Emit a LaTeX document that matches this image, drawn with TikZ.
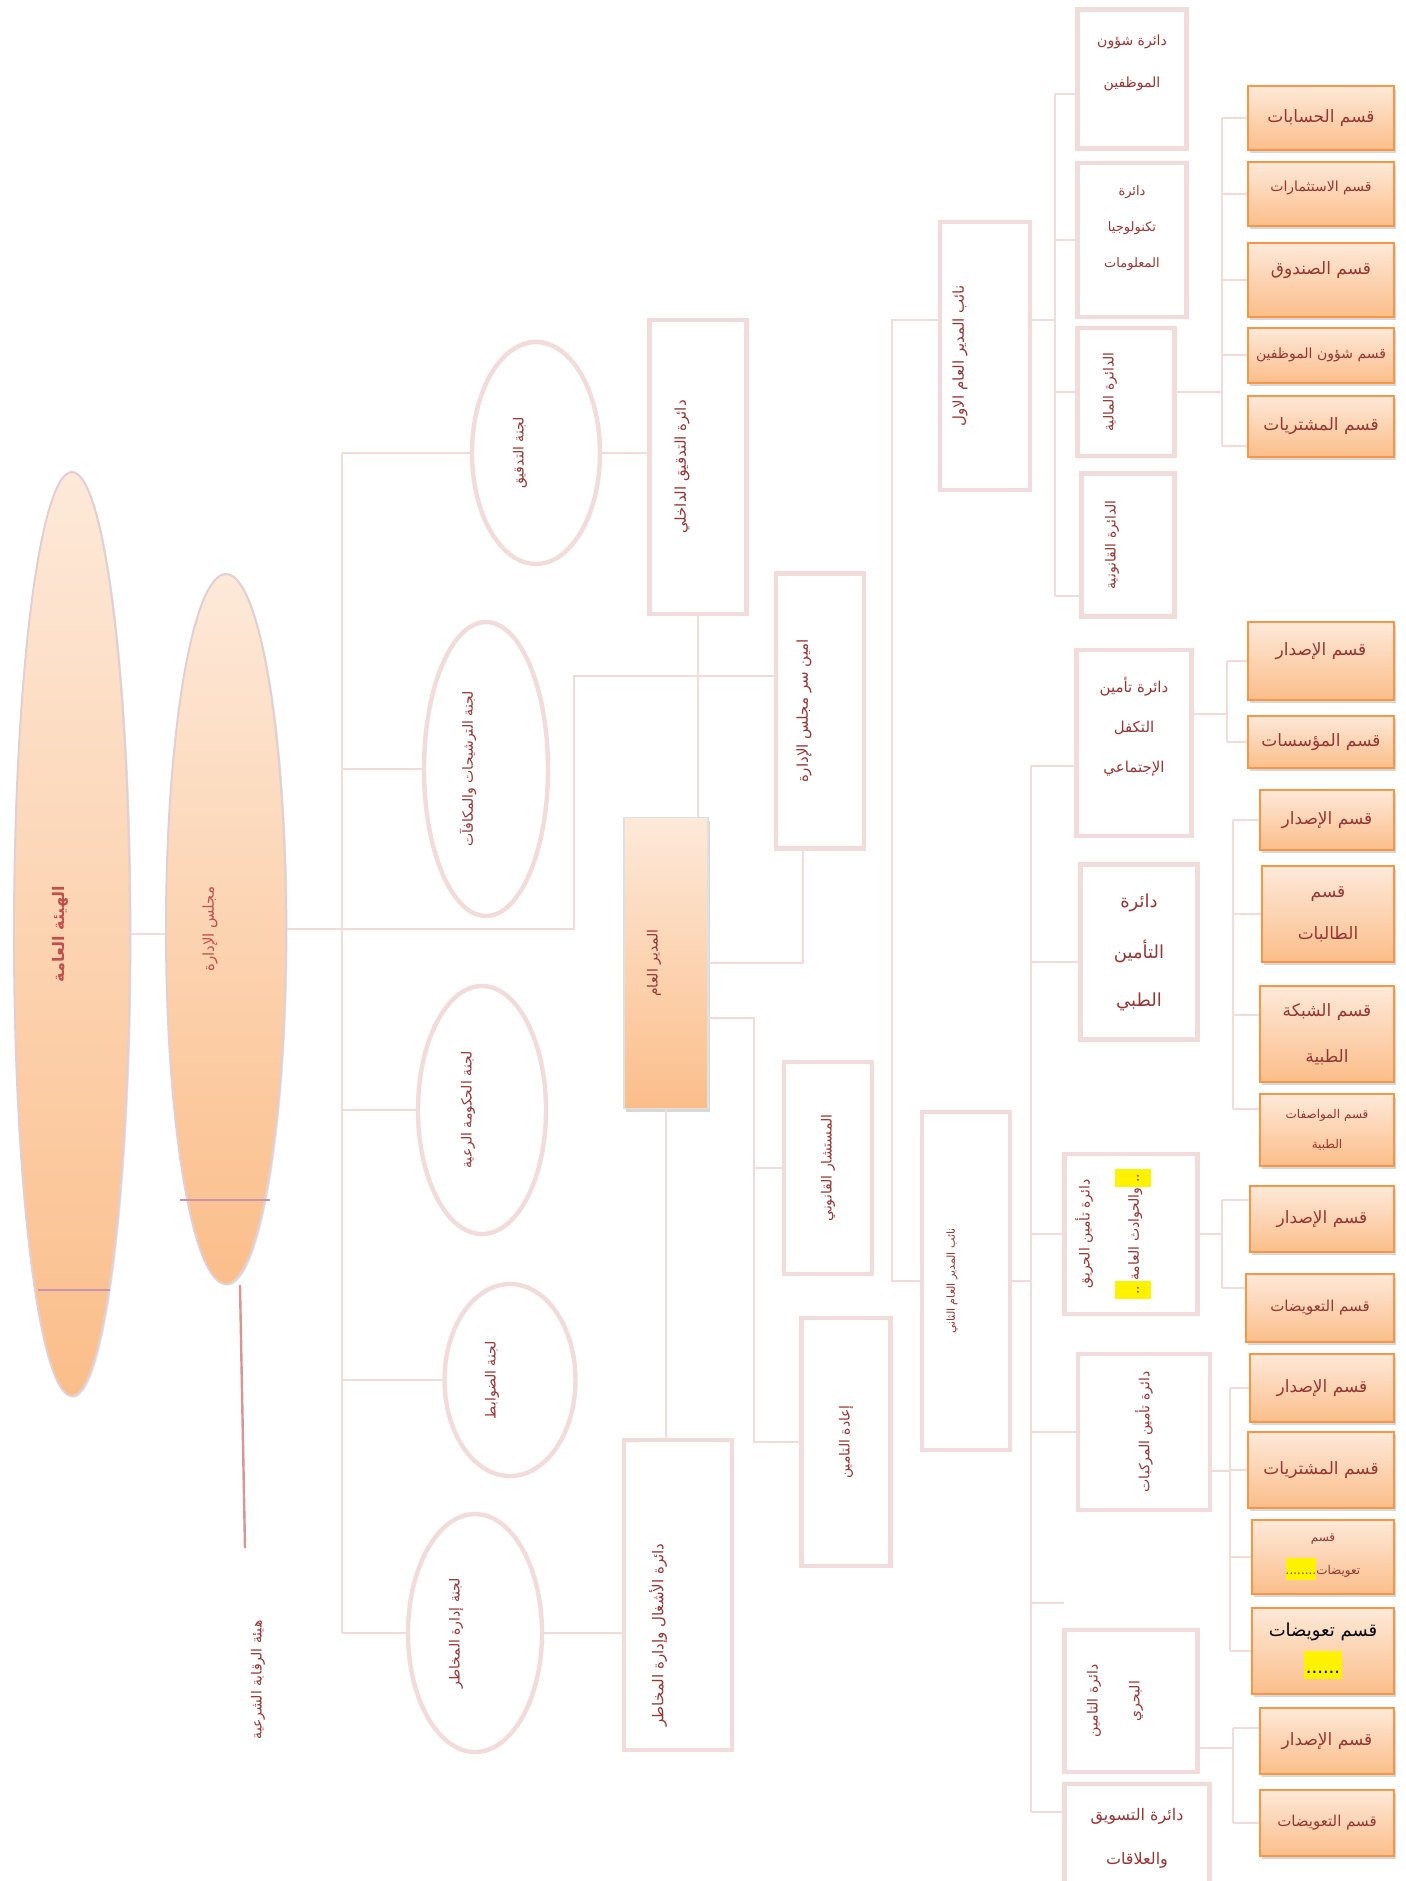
\documentclass[tikz,border=0pt]{standalone}
\usepackage{fontspec}
\usepackage{graphicx}
\usetikzlibrary{shapes.geometric, shadows}
\TeXXeTstate=1
\newfontfamily\arabicfont[Script=Arabic]{DejaVu Sans}
\definecolor{ink}{HTML}{943634}
\definecolor{inkred}{HTML}{C0504D}
\definecolor{rose}{HTML}{F2DCDB}
\definecolor{mauve}{HTML}{D99594}
\definecolor{lilac}{HTML}{C993AD}
\definecolor{peachtop}{HTML}{FDE9D9}
\definecolor{peachbot}{HTML}{FBBE8A}
\definecolor{amber}{HTML}{F79646}
\definecolor{ovalln}{HTML}{E3CFD2}
\newcommand{\ar}[1]{\beginR#1\endR}
\newcommand{\vt}[2][0pt]{\rotatebox{90}{\ar{#2}}\hspace*{#1}}
\newcommand{\vtwo}[4]{\rotatebox{90}{\begin{tabular}{@{}c@{}}#1\\[#3]#2\end{tabular}}\hspace*{#4}}
\newcommand{\hlt}[3]{{\setlength{\fboxsep}{0pt}\colorbox{yellow}{\rule[-#1]{0pt}{#2}#3}}}

\begin{document}
\begin{tikzpicture}[
  x=0.5pt, y=-0.5pt,
  wh/.style 2 args={minimum width=#1*0.5pt-2pt, minimum height=#2*0.5pt-2pt},
  bigoval/.style={
    ellipse, draw=ovalln, line width=1pt, top color=peachtop, bottom color=peachbot,
    inner sep=0pt, font=\arabicfont\fontsize{8}{10}\selectfont, text=inkred,
    drop shadow={shadow xshift=0.8pt, shadow yshift=-0.8pt, opacity=0.2}
  },
  committee/.style={
    ellipse, draw=rose, line width=2.2pt, fill=white, inner sep=0pt,
    font=\arabicfont\fontsize{7}{8}\selectfont, text=ink
  },
  deptbox/.style={
    draw=rose, line width=2.3pt, fill=white, inner sep=0pt, align=center,
    font=\arabicfont\fontsize{7}{9}\selectfont, text=ink
  },
  chief/.style={
    draw=black!12, line width=0.8pt, top color=peachtop, bottom color=peachbot,
    inner sep=0pt, font=\arabicfont\fontsize{7}{9}\selectfont, text=ink,
    drop shadow={shadow xshift=1pt, shadow yshift=-1.5pt, opacity=0.3}
  },
  sectbox/.style={
    draw=amber, line width=1pt, top color=peachtop, bottom color=peachbot,
    inner sep=0pt, align=center, font=\arabicfont\fontsize{8.5}{10}\selectfont, text=ink,
    drop shadow={shadow xshift=1pt, shadow yshift=-1.5pt, opacity=0.3}
  },
  conn/.style={draw=rose, line width=1.2pt},
  ruleln/.style={draw=mauve, line width=1.2pt},
]

% ============================================================
% Page
% ============================================================
\fill[white] (0,0) rectangle (1405,1881);
\useasboundingbox (0,0) rectangle (1405,1881);

% ============================================================
% General assembly and board
% ============================================================
\node[bigoval, wh={120}{928}] (assembly) at (72,934)
  {\rotatebox{90}{\bfseries\ar{الهيئة العامة}}\hspace*{12pt}};
\node[bigoval, wh={124}{714}, font=\arabicfont\fontsize{7.5}{9}\selectfont] (board) at (226,929)
  {\vt[16pt]{مجلس الإدارة}};
\draw[lilac, line width=1pt] (38,1290) -- (110,1290);
\draw[lilac, line width=1pt] (180,1200) -- (270,1200);

\coordinate (sharia-end) at (245,1548);
\node[text=ink, font=\arabicfont\fontsize{7}{9}\selectfont] (sharia) at (258,1680)
  {\vt{هيئة الرقابة الشرعية}};

% ============================================================
% Committees
% ============================================================
\node[committee, wh={132}{226}] (c-audit) at (536,453) {\vt[16pt]{لجنة التدقيق}};
\node[committee, wh={128}{298}] (c-nomin) at (486,769) {\vt[18pt]{لجنة الترشيحات والمكافآت}};
\node[committee, wh={132}{252}] (c-gov) at (482,1110) {\vt[14pt]{لجنة الحكومة الرعية}};
\node[committee, wh={135}{196}] (c-ctrl) at (510,1380) {\vt[18pt]{لجنة الضوابط}};
\node[committee, wh={138}{242}] (c-risk) at (475,1633) {\vt[19pt]{لجنة إدارة المخاطر}};

% ============================================================
% Board level units and general manager
% ============================================================
\node[deptbox, wh={101}{298}, font=\arabicfont\fontsize{7.5}{9}\selectfont] (audit) at (698,467)
  {\vt[16pt]{دائرة التدقيق الداخلي}};
\node[deptbox, wh={92}{279}, font=\arabicfont\fontsize{7.5}{9}\selectfont] (secretary) at (820,711)
  {\vt[16pt]{امين سر مجلس الإدارة}};
\node[chief, wh={88}{295}] (gm) at (666,963) {\vt[12pt]{المدير العام}};
\node[deptbox, wh={92}{216}] (legal) at (828,1168) {\vt{المستشار القانوني}};
\node[deptbox, wh={93}{252}] (reins) at (846,1442) {\vt{إعادة التامين}};
\node[deptbox, wh={112}{314}, font=\arabicfont\fontsize{7.5}{9}\selectfont] (works) at (678,1595)
  {\rotatebox{90}{\ar{دائرة الأشغال وإدارة المخاطر}\hspace*{40pt}}\hspace*{20pt}};

% ============================================================
% Deputies
% ============================================================
\node[deptbox, wh={94}{272}, font=\arabicfont\fontsize{7.5}{9}\selectfont] (dep1) at (985,356)
  {\vt[25pt]{نائب المدير العام الاول}};
\node[deptbox, wh={92}{342}, font=\arabicfont\fontsize{5.5}{7}\selectfont] (dep2) at (966,1281)
  {\vt[14pt]{نائب المدير العام الثاني}};

% --- first deputy: departments ---
\node[deptbox, wh={113}{143}, text depth=18pt] (staff) at (1132,79)
  {\ar{دائرة شؤون}\\[12pt]\ar{الموظفين}};
\node[deptbox, wh={113}{158}, font=\arabicfont\fontsize{6.5}{8}\selectfont, text depth=13pt] (it) at (1132,240)
  {\ar{دائرة}\\[10pt]\ar{تكنولوجيا}\\[10pt]\ar{المعلومات}};
\node[deptbox, wh={101}{132}] (finance) at (1126,392) {\vt[16pt]{الدائرة المالية}};
\node[deptbox, wh={97}{147}] (lawdept) at (1128,545) {\vt[16pt]{الدائرة القانونية}};

% --- finance sections ---
\node[sectbox, wh={150}{68}] (s-acc) at (1321,118) {\ar{قسم الحسابات}};
\node[sectbox, wh={150}{68}, font=\arabicfont\fontsize{7}{9}\selectfont, text depth=8pt] (s-inv) at (1321,194)
  {\ar{قسم الاستثمارات}};
\node[sectbox, wh={150}{78}, text depth=12pt] (s-fund) at (1321,280) {\ar{قسم الصندوق}};
\node[sectbox, wh={150}{59}, font=\arabicfont\fontsize{7}{9}\selectfont] (s-staff) at (1321,355)
  {\ar{قسم شؤون الموظفين}};
\node[sectbox, wh={150}{65}] (s-pur) at (1321,426) {\ar{قسم المشتريات}};

% --- second deputy: departments ---
\node[deptbox, wh={119}{190}, font=\arabicfont\fontsize{7.5}{9}\selectfont, text depth=18pt] (takaful) at (1134,743)
  {\ar{دائرة تأمين}\\[11pt]\ar{التكفل}\\[11pt]\ar{الإجتماعي}};
\node[deptbox, wh={121}{179}, font=\arabicfont\fontsize{9}{11}\selectfont] (medical) at (1139,952)
  {\ar{دائرة}\\[13pt]\ar{التأمين}\\[13pt]\ar{الطبي}};
\node[deptbox, wh={137}{164}] (fire) at (1131,1234)
  {\vtwo{\ar{دائرة تأمين الحريق}}
        {\hlt{6pt}{18pt}{\hspace{2.5pt}..\hspace{2.5pt}}\ar{والحوادث العامة}\hlt{6pt}{18pt}{\hspace{2.5pt}..\hspace{2.5pt}}}{10pt}{18pt}};
\node[deptbox, wh={136}{160}] (motor) at (1144,1432) {\vt{دائرة تأمين المركبات}};
\node[deptbox, wh={137}{146}] (marine) at (1131,1701)
  {\vtwo{\ar{دائرة التامين}}{\ar{البحري}}{12pt}{16pt}};
\node[deptbox, wh={149}{112}, font=\arabicfont\fontsize{8}{10}\selectfont] (market) at (1137,1838)
  {\ar{دائرة التسويق}\\[12pt]\ar{والعلاقات}};

% --- takaful sections ---
\node[sectbox, wh={150}{82}, text depth=12pt] (s-iss1) at (1321,661) {\ar{قسم الإصدار}};
\node[sectbox, wh={150}{56}] (s-inst) at (1321,742) {\ar{قسم المؤسسات}};

% --- medical sections ---
\node[sectbox, wh={138}{64}] (s-iss2) at (1327,820) {\ar{قسم الإصدار}};
\node[sectbox, wh={136}{100}] (s-claimm) at (1328,914) {\ar{قسم}\\[11pt]\ar{الطالبات}};
\node[sectbox, wh={138}{100}] (s-net) at (1327,1034) {\ar{قسم الشبكة}\\[13pt]\ar{الطبية}};
\node[sectbox, wh={138}{76}, font=\arabicfont\fontsize{6}{8}\selectfont] (s-spec) at (1327,1130)
  {\ar{قسم المواصفات}\\[7pt]\ar{الطبية}};

% --- fire sections ---
\node[sectbox, wh={148}{70}] (s-iss3) at (1322,1219) {\ar{قسم الإصدار}};
\node[sectbox, wh={152}{72}, font=\arabicfont\fontsize{7.5}{9}\selectfont] (s-clm1) at (1320,1308)
  {\ar{قسم التعويضات}};

% --- motor sections ---
\node[sectbox, wh={148}{72}] (s-iss4) at (1322,1388) {\ar{قسم الإصدار}};
\node[sectbox, wh={150}{80}] (s-pur2) at (1321,1470) {\ar{قسم المشتريات}};
\node[sectbox, wh={146}{78}, font=\arabicfont\fontsize{6}{8}\selectfont] (s-clm3) at (1323,1557)
  {\ar{قسم}\\[6pt]\hlt{3pt}{11pt}{........}\ar{تعويضات}};
\node[sectbox, wh={146}{90}, text=black, font=\arabicfont\fontsize{9}{11}\selectfont] (s-clm4) at (1323,1651)
  {\ar{قسم تعويضات}\\[4pt]\hlt{3pt}{14pt}{\hspace{1pt}......\hspace{1pt}}};

% --- marine sections ---
\node[sectbox, wh={138}{70}] (s-iss5) at (1327,1741) {\ar{قسم الإصدار}};
\node[sectbox, wh={138}{70}, font=\arabicfont\fontsize{7.5}{9}\selectfont] (s-clm5) at (1327,1823)
  {\ar{قسم التعويضات}};

% ============================================================
% Connectors: board and committees
% ============================================================
\coordinate (trunk) at (342,0);
\coordinate (secv) at (574,0);
\coordinate (legalv) at (754,0);

\draw[conn] (assembly.east) -- (assembly.east -| board.west);
\draw[conn] (board.east) -| ([yshift=17.5pt]secretary.west -| secv) -- ([yshift=17.5pt]secretary.west);
\draw[conn] (trunk |- c-audit.west) -- (trunk |- c-risk.west);
\draw[conn] (trunk |- c-audit.west) -- (c-audit.west);
\draw[conn] (trunk |- c-nomin.west) -- (c-nomin.west);
\draw[conn] (trunk |- c-gov.west) -- (c-gov.west);
\draw[conn] (trunk |- c-ctrl.west) -- (c-ctrl.west);
\draw[conn] (trunk |- c-risk.west) -- (c-risk.west);
\draw[ruleln] ([xshift=7pt]board.south) -- (sharia-end);

\draw[conn] (c-audit.east) -- (c-audit.east -| audit.west);
\draw[conn] (c-risk.east) -- (c-risk.east -| works.west);
\draw[conn] (audit.south) -- (audit.south |- gm.north);
\draw[conn] ([xshift=-8.5pt]secretary.south) |- (gm.east);
\draw[conn] ([yshift=-27.5pt]gm.east) -| (legalv |- reins.west) -- (reins.west);
\draw[conn] (legalv |- legal.west) -- (legal.west);
\draw[conn] (gm.south) -- (gm.south |- works.north);

% ============================================================
% Connectors: deputies
% ============================================================
\coordinate (depv) at (892,0);
\draw[conn] ([yshift=18pt]dep1.west) -| (depv |- dep2.west) -- (dep2.west);

% --- first deputy ---
\coordinate (v-dep1) at (1055,0);
\draw[conn] ([yshift=18pt]dep1.east) -- ([yshift=18pt]dep1.east -| v-dep1);
\draw[conn] ([yshift=-7.5pt]staff.west -| v-dep1) -- ([yshift=-25.5pt]lawdept.west -| v-dep1);
\draw[conn] ([yshift=-7.5pt]staff.west -| v-dep1) -- ([yshift=-7.5pt]staff.west);
\draw[conn] (v-dep1 |- it.west) -- (it.west);
\draw[conn] (v-dep1 |- finance.west) -- (finance.west);
\draw[conn] ([yshift=-25.5pt]lawdept.west -| v-dep1) -- ([yshift=-25.5pt]lawdept.west);

\coordinate (v-fin) at (1222,0);
\draw[conn] (finance.east) -- (finance.east -| v-fin);
\draw[conn] (v-fin |- s-acc.west) -- ([yshift=-10pt]s-pur.west -| v-fin);
\draw[conn] (v-fin |- s-acc.west) -- (s-acc.west);
\draw[conn] (v-fin |- s-inv.west) -- (s-inv.west);
\draw[conn] (v-fin |- s-fund.west) -- (s-fund.west);
\draw[conn] (v-fin |- s-staff.west) -- (s-staff.west);
\draw[conn] ([yshift=-10pt]s-pur.west -| v-fin) -- ([yshift=-10pt]s-pur.west);

% --- second deputy ---
\coordinate (v-dep2) at (1031,0);
\coordinate (stub) at (1064,1603);
\draw[conn] (dep2.east) -- (dep2.east -| v-dep2);
\draw[conn] ([yshift=-11.5pt]takaful.west -| v-dep2) -- ([yshift=13pt]market.west -| v-dep2);
\draw[conn] ([yshift=-11.5pt]takaful.west -| v-dep2) -- ([yshift=-11.5pt]takaful.west);
\draw[conn] ([yshift=-5pt]medical.west -| v-dep2) -- ([yshift=-5pt]medical.west);
\draw[conn] (v-dep2 |- fire.west) -- (fire.west);
\draw[conn] (v-dep2 |- motor.west) -- (motor.west);
\draw[conn] (v-dep2 |- stub) -- (stub);
\draw[conn] ([yshift=13pt]market.west -| v-dep2) -- ([yshift=13pt]market.west);

\coordinate (v-tak) at (1227,0);
\draw[conn] ([yshift=14.5pt]takaful.east) -- ([yshift=14.5pt]takaful.east -| v-tak);
\draw[conn] (v-tak |- s-iss1.west) -- (v-tak |- s-inst.west);
\draw[conn] (v-tak |- s-iss1.west) -- (s-iss1.west);
\draw[conn] (v-tak |- s-inst.west) -- (s-inst.west);

\coordinate (v-med) at (1233,0);
\draw[conn] (v-med |- s-iss2.west) -- ([yshift=10.5pt]s-spec.west -| v-med);
\draw[conn] (v-med |- s-iss2.west) -- (s-iss2.west);
\draw[conn] (v-med |- s-claimm.west) -- (s-claimm.west);
\draw[conn] ([yshift=9.5pt]s-net.west -| v-med) -- ([yshift=9.5pt]s-net.west);
\draw[conn] ([yshift=10.5pt]s-spec.west -| v-med) -- ([yshift=10.5pt]s-spec.west);

\coordinate (v-fire) at (1222,0);
\draw[conn] (fire.east) -- (fire.east -| v-fire);
\draw[conn] ([yshift=9.5pt]s-iss3.west -| v-fire) -- ([yshift=10pt]s-clm1.west -| v-fire);
\draw[conn] ([yshift=9.5pt]s-iss3.west -| v-fire) -- ([yshift=9.5pt]s-iss3.west);
\draw[conn] ([yshift=10pt]s-clm1.west -| v-fire) -- ([yshift=10pt]s-clm1.west);

\coordinate (v-motor) at (1230,0);
\draw[conn] ([yshift=-19.5pt]motor.east) -- ([yshift=-19.5pt]motor.east -| v-motor);
\draw[conn] (v-motor |- s-iss4.west) -- (v-motor |- s-clm4.west);
\draw[conn] (v-motor |- s-iss4.west) -- (s-iss4.west);
\draw[conn] (v-motor |- s-pur2.west) -- (s-pur2.west);
\draw[conn] (v-motor |- s-clm3.west) -- (s-clm3.west);
\draw[conn] (v-motor |- s-clm4.west) -- (s-clm4.west);

\coordinate (v-marine) at (1233,0);
\draw[conn] ([yshift=-23.5pt]marine.east) -- ([yshift=-23.5pt]marine.east -| v-marine);
\draw[conn] ([yshift=6.5pt]s-iss5.west -| v-marine) -- (v-marine |- s-clm5.west);
\draw[conn] ([yshift=6.5pt]s-iss5.west -| v-marine) -- ([yshift=6.5pt]s-iss5.west);
\draw[conn] (v-marine |- s-clm5.west) -- (s-clm5.west);

\end{tikzpicture}
\end{document}
